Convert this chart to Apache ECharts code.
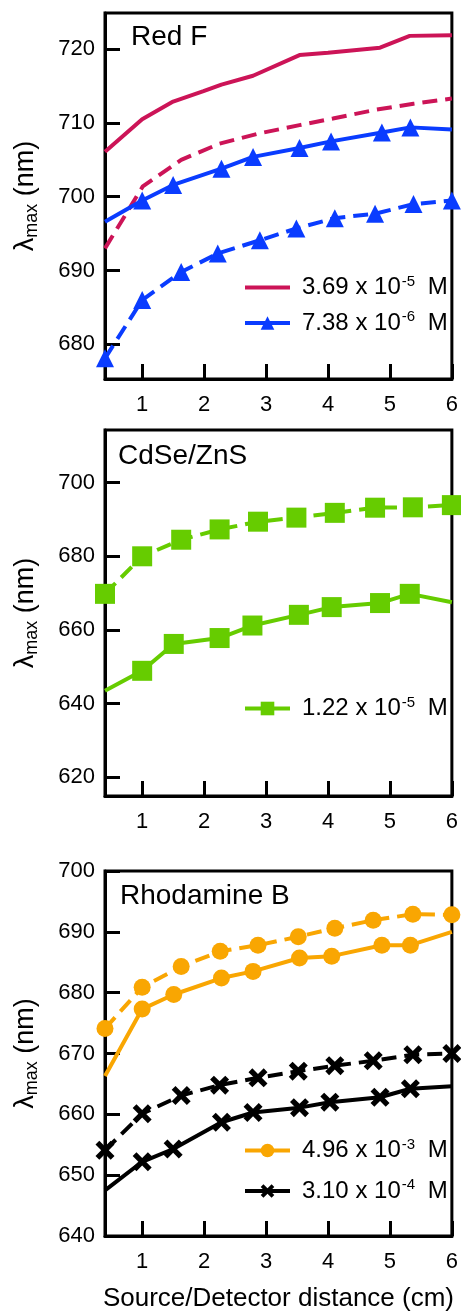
<!DOCTYPE html>
<html><head><meta charset="utf-8">
<script src="https://cdn.jsdelivr.net/npm/echarts@6/dist/echarts.min.js"></script>
<style>html,body{margin:0;padding:0;background:#fff}#c{width:461px;height:1313px}</style>
</head><body><div id="c"></div>
<script>
// ---- data ----
const xTicks = [1, 2, 3, 4, 5, 6];
// Panel 1: Red F
const redSolidX = [0.4, 1.0, 1.5, 1.99, 2.28, 2.79, 3.54, 4.0, 4.84, 5.32, 6.0];
const redSolidY = [706.1, 710.5, 712.9, 714.3, 715.2, 716.4, 719.2, 719.5, 720.2, 721.8, 721.9];
const redDashX = [0.4, 1.01, 1.63, 2.25, 2.9, 3.54, 4.08, 4.78, 5.38, 6.0];
const redDashY = [693.0, 701.4, 705.0, 707.2, 708.6, 709.7, 710.6, 711.8, 712.6, 713.3];
const blueSolidX = [0.4, 1.0, 1.5, 2.28, 2.79, 3.54, 4.05, 4.87, 5.33, 6.0];
const blueSolidY = [696.6, 699.5, 701.6, 703.8, 705.4, 706.6, 707.5, 708.7, 709.4, 709.1];
const blueDashX = [0.4, 1.0, 1.63, 2.22, 2.9, 3.49, 4.11, 4.76, 5.38, 6.0];
const blueDashY = [678.1, 686.0, 689.8, 692.3, 694.1, 695.7, 697.1, 697.7, 699.0, 699.5];
const p1Ticks = [680, 690, 700, 710, 720];
// Panel 2: CdSe/ZnS
const cdDashX = [0.4, 1.0, 1.63, 2.25, 2.87, 3.49, 4.11, 4.76, 5.37, 6.0];
const cdDashY = [669.8, 680.0, 684.5, 687.3, 689.4, 690.5, 691.8, 693.2, 693.3, 693.9];
const cdSolidX = [0.4, 1.0, 1.51, 2.25, 2.78, 3.53, 4.06, 4.84, 5.32, 6.0];
const cdSolidY = [643.5, 648.9, 656.2, 657.8, 661.2, 664.1, 666.2, 667.3, 669.8, 667.5];
const p2Ticks = [620, 640, 660, 680, 700];
// Panel 3: Rhodamine B
const orDashX = [0.4, 1.0, 1.63, 2.26, 2.87, 3.52, 4.11, 4.73, 5.37, 6.0];
const orDashY = [674.1, 680.9, 684.3, 686.8, 687.8, 689.2, 690.6, 691.9, 692.9, 692.8];
const orSolidX = [0.4, 1.0, 1.51, 2.28, 2.79, 3.54, 4.06, 4.87, 5.33, 6.0];
const orSolidY = [666.3, 677.3, 679.7, 682.4, 683.5, 685.7, 686.0, 687.8, 687.8, 690.0];
const bkDashX = [0.4, 1.0, 1.63, 2.25, 2.87, 3.52, 4.11, 4.73, 5.37, 6.0];
const bkDashY = [654.1, 660.1, 663.1, 664.8, 666.0, 667.1, 668.0, 668.8, 669.8, 670.0];
const bkSolidX = [0.4, 1.0, 1.5, 2.28, 2.79, 3.54, 4.03, 4.84, 5.33, 6.0];
const bkSolidY = [647.5, 652.2, 654.3, 658.7, 660.3, 661.1, 662.0, 662.8, 664.2, 664.6];
const p3Ticks = [640, 650, 660, 670, 680, 690, 700];
const panelTitles = ['Red F', 'CdSe/ZnS', 'Rhodamine B'];
const xAxisTitle = 'Source/Detector distance (cm)';
const legendNames = {
  red: '3.69 x 10{sup|-5} M', blue: '7.38 x 10{sup|-6} M', green: '1.22 x 10{sup|-5} M',
  orange: '4.96 x 10{sup|-3} M', black: '3.10 x 10{sup|-4} M'
};

// ---- styles ----
const FONT = 'Liberation Sans, Arial, Helvetica, sans-serif';
const C = { red: '#CC1457', blue: '#0A3CFF', green: '#66CC00', orange: '#F9A602', black: '#000000' };
const XSYM = 'path://M0,2 L2,0 L5,3 L8,0 L10,2 L7,5 L10,8 L8,10 L5,7 L2,10 L0,8 L3,5 Z';
const LINE_ICON = 'path://M0,0 L45,0 L45,4 L0,4 Z';
const grids = [
  { left: 105, width: 347, top: 13, height: 366 },
  { left: 105, width: 347, top: 430, height: 366 },
  { left: 105, width: 347, top: 871, height: 367 }
];
const yRanges = [[675.3, 724.9, p1Ticks], [614.9, 714.3, p2Ticks], [640, 700, p3Ticks]];

function pairs(xs, ys, hideEnds) {
  return xs.map((x, i) => {
    const it = { value: [x, ys[i]] };
    if (hideEnds && (i === 0 || i === xs.length - 1)) it.symbol = 'none';
    return it;
  });
}
function line(name, idx, xs, ys, color, dashed, symbol, size, hideEnds) {
  return {
    name, type: 'line', xAxisIndex: idx, yAxisIndex: idx,
    data: pairs(xs, ys, hideEnds),
    symbol: symbol || 'none', symbolSize: size || 0, showSymbol: !!symbol,
    clip: false, animation: false,
    lineStyle: { color, width: 4, type: dashed ? [15, 8] : 'solid' },
    itemStyle: { color, opacity: 1 },
    emphasis: { disabled: true }
  };
}

const option = {
  animation: false,
  grid: grids.map(g => Object.assign({ show: true, borderColor: '#000', borderWidth: 3, backgroundColor: 'transparent' }, g)),
  title: [
    { text: panelTitles[0], left: 131, top: 23 },
    { text: panelTitles[1], left: 118, top: 442 },
    { text: panelTitles[2], left: 120, top: 882 }
  ].map(t => Object.assign(t, { padding: 0, textStyle: { fontFamily: FONT, fontSize: 28, fontWeight: 'normal', color: '#000' } })),
  xAxis: [0, 1, 2].map(i => ({
    type: 'value', gridIndex: i, min: 0.4, max: 6,
    axisLine: { show: true, onZero: false, lineStyle: { color: '#000', width: 3 } },
    axisTick: { show: true, inside: true, length: 15, customValues: xTicks, lineStyle: { color: '#000', width: 3 } },
    axisLabel: { show: true, margin: 15, customValues: xTicks, fontFamily: FONT, fontSize: 22, color: '#000' },
    splitLine: { show: false },
    name: i === 2 ? xAxisTitle : '',
    nameLocation: 'middle', nameGap: 50,
    nameTextStyle: { fontFamily: FONT, fontSize: 26, color: '#000' }
  })),
  yAxis: [0, 1, 2].map(i => ({
    type: 'value', gridIndex: i, min: yRanges[i][0], max: yRanges[i][1],
    axisLine: { show: true, onZero: false, lineStyle: { color: '#000', width: 3 } },
    axisTick: { show: true, inside: true, length: 15, customValues: yRanges[i][2], lineStyle: { color: '#000', width: 3 } },
    axisLabel: { show: true, margin: 10, customValues: yRanges[i][2], fontFamily: FONT, fontSize: 22, color: '#000' },
    splitLine: { show: false },
    name: '{a|λ}{s|max}{a| (nm)}', nameLocation: 'middle', nameRotate: 90, nameGap: 64,
    nameTextStyle: { color: '#000', rich: {
      a: { fontFamily: FONT, fontSize: 27, color: '#000' },
      s: { fontFamily: FONT, fontSize: 18, color: '#000', verticalAlign: 'bottom', padding: [12, 0, 0, 0] }
    } }
  })),
  legend: [
    { data: [{ name: 'red', icon: LINE_ICON }, 'blue'], left: 243, top: 274, itemGap: 10 },
    { data: ['green'], left: 243, top: 695, itemGap: 10 },
    { data: ['orange', 'black'], left: 243, top: 1137, itemGap: 15 }
  ].map(l => Object.assign(l, {
    orient: 'vertical', itemWidth: 45, itemHeight: 17, padding: 0, selectedMode: false,
    lineStyle: { width: 4, type: 'solid' },
    formatter: n => legendNames[n],
    textStyle: { fontFamily: FONT, fontSize: 24, color: '#000', padding: [0, 0, 0, 7],
      rich: { sup: { fontFamily: FONT, fontSize: 15, color: '#000', verticalAlign: 'top', padding: [0, 6, 12, 1] } } }
  })),
  series: [
    line('red', 0, redSolidX, redSolidY, C.red, false, null, 0, true),
    line('redDash', 0, redDashX, redDashY, C.red, true, null, 0, false),
    line('blue', 0, blueSolidX, blueSolidY, C.blue, false, 'triangle', 18, true),
    line('blueDash', 0, blueDashX, blueDashY, C.blue, true, 'triangle', 18, false),
    line('green', 1, cdSolidX, cdSolidY, C.green, false, 'rect', 20, true),
    line('greenDash', 1, cdDashX, cdDashY, C.green, true, 'rect', 20, false),
    line('orange', 2, orSolidX, orSolidY, C.orange, false, 'circle', 17, true),
    line('orangeDash', 2, orDashX, orDashY, C.orange, true, 'circle', 17, false),
    line('black', 2, bkSolidX, bkSolidY, C.black, false, XSYM, 19, true),
    line('blackDash', 2, bkDashX, bkDashY, C.black, true, XSYM, 19, false)
  ]
};
const chart = echarts.init(document.getElementById('c'), null, { renderer: 'canvas' });
chart.setOption(option);
</script></body></html>
